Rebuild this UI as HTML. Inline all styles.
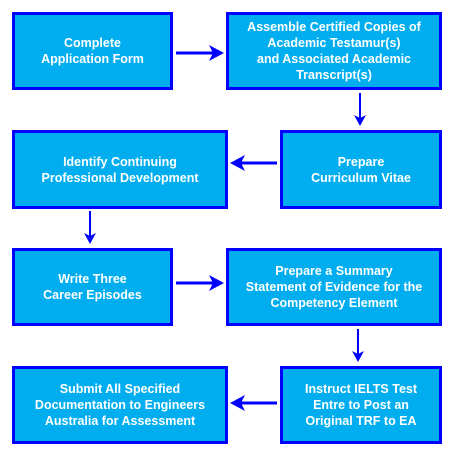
<!DOCTYPE html>
<html><head><style>
body{margin:0;width:453px;height:470px;background:#fff;position:relative;overflow:hidden;font-family:"Liberation Sans",sans-serif}
.b{position:absolute;box-sizing:border-box;border:3px solid #0000ff;background:#00aeef;color:#fff;font-weight:bold;font-size:12.5px;line-height:16px;display:flex;align-items:center;justify-content:center;text-align:center}
svg{position:absolute;left:0;top:0}
</style></head><body>
<div class="b" style="left:12px;top:12px;width:161px;height:78px">Complete<br>Application Form</div>
<div class="b" style="left:226px;top:12px;width:216px;height:78px">Assemble Certified Copies of<br>Academic Testamur(s)<br>and Associated Academic<br>Transcript(s)</div>
<div class="b" style="left:12px;top:130px;width:216px;height:79px">Identify Continuing<br>Professional Development</div>
<div class="b" style="left:280px;top:130px;width:162px;height:79px">Prepare<br>Curriculum Vitae</div>
<div class="b" style="left:12px;top:248px;width:161px;height:78px">Write Three<br>Career Episodes</div>
<div class="b" style="left:226px;top:248px;width:216px;height:78px">Prepare a Summary<br>Statement of Evidence for the<br>Competency Element</div>
<div class="b" style="left:12px;top:366px;width:216px;height:78px">Submit All Specified<br>Documentation to Engineers<br>Australia for Assessment</div>
<div class="b" style="left:280px;top:366px;width:162px;height:78px">Instruct IELTS Test<br>Entre to Post an<br>Original TRF to EA</div>
<svg width="453" height="470">
<g stroke="#0000ff" fill="#0000ff">
<line x1="176" y1="53" x2="214" y2="53" stroke-width="3"/><polygon points="224,53 209,45 213,53 209,61" stroke="none"/>
<line x1="360" y1="93" x2="360" y2="118" stroke-width="2"/><polygon points="360,126 354,115 360,118 366,115" stroke="none"/>
<line x1="277" y1="163" x2="240" y2="163" stroke-width="3"/><polygon points="230,163 245,155 241,163 245,171" stroke="none"/>
<line x1="90" y1="211" x2="90" y2="236" stroke-width="2"/><polygon points="90,244 84,233 90,236 96,233" stroke="none"/>
<line x1="176" y1="283" x2="214" y2="283" stroke-width="3"/><polygon points="224,283 209,275 213,283 209,291" stroke="none"/>
<line x1="358" y1="329" x2="358" y2="354" stroke-width="2"/><polygon points="358,362 352,351 358,354 364,351" stroke="none"/>
<line x1="277" y1="403" x2="240" y2="403" stroke-width="3"/><polygon points="230,403 245,395 241,403 245,411" stroke="none"/>
</g></svg>
</body></html>
